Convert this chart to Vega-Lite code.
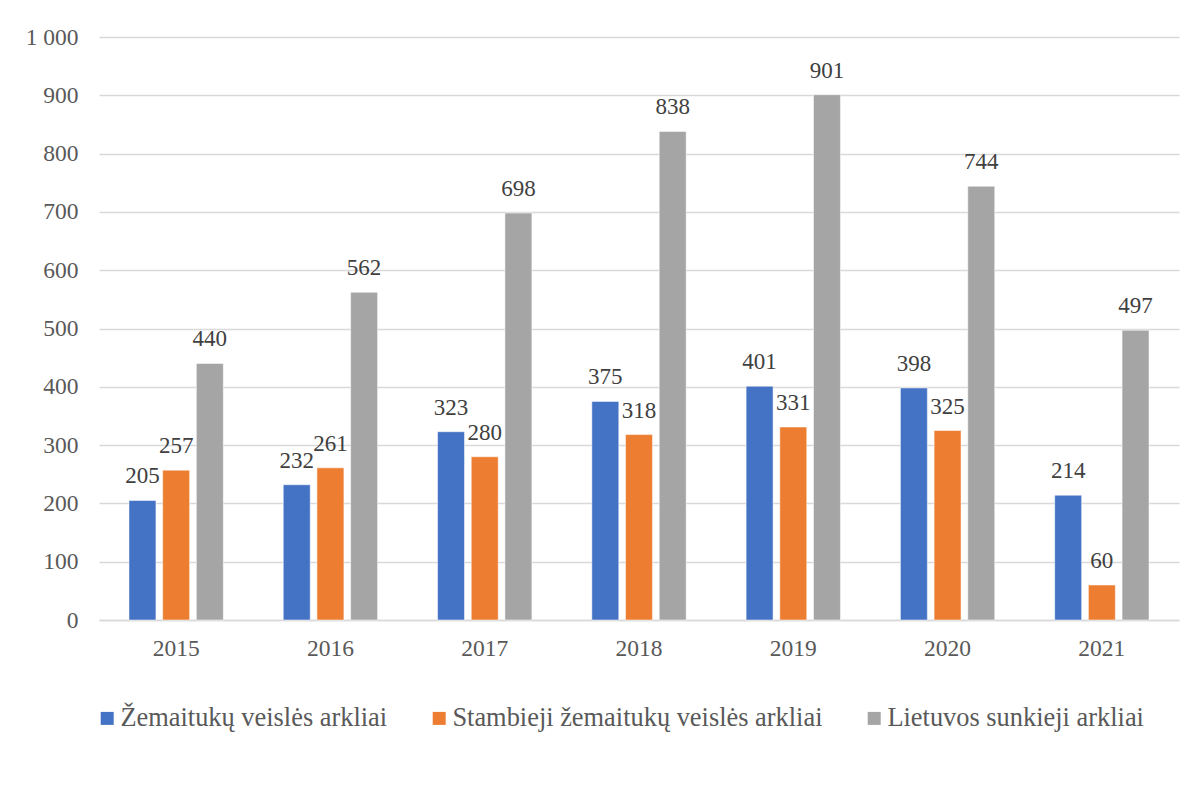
{
  "$schema": "https://vega.github.io/schema/vega-lite/v6.json",
  "autosize": "none",
  "width": 1080,
  "height": 583,
  "padding": {"left": 99, "top": 37, "right": 16, "bottom": 167},
  "background": "white",
  "config": {
    "font": "Liberation Serif",
    "view": {"stroke": null},
    "text": {"font": "Liberation Serif"},
    "axis": {"labelFont": "Liberation Serif", "labelColor": "#595959", "labelFontSize": 23.5}
  },
  "data": {
    "values": [
      {"year": "2015", "series": "Žemaitukų veislės arkliai", "value": 205},
      {"year": "2016", "series": "Žemaitukų veislės arkliai", "value": 232},
      {"year": "2017", "series": "Žemaitukų veislės arkliai", "value": 323},
      {"year": "2018", "series": "Žemaitukų veislės arkliai", "value": 375},
      {"year": "2019", "series": "Žemaitukų veislės arkliai", "value": 401},
      {"year": "2020", "series": "Žemaitukų veislės arkliai", "value": 398},
      {"year": "2021", "series": "Žemaitukų veislės arkliai", "value": 214},
      {"year": "2015", "series": "Stambieji žemaitukų veislės arkliai", "value": 257},
      {"year": "2016", "series": "Stambieji žemaitukų veislės arkliai", "value": 261},
      {"year": "2017", "series": "Stambieji žemaitukų veislės arkliai", "value": 280},
      {"year": "2018", "series": "Stambieji žemaitukų veislės arkliai", "value": 318},
      {"year": "2019", "series": "Stambieji žemaitukų veislės arkliai", "value": 331},
      {"year": "2020", "series": "Stambieji žemaitukų veislės arkliai", "value": 325},
      {"year": "2021", "series": "Stambieji žemaitukų veislės arkliai", "value": 60},
      {"year": "2015", "series": "Lietuvos sunkieji arkliai", "value": 440},
      {"year": "2016", "series": "Lietuvos sunkieji arkliai", "value": 562},
      {"year": "2017", "series": "Lietuvos sunkieji arkliai", "value": 698},
      {"year": "2018", "series": "Lietuvos sunkieji arkliai", "value": 838},
      {"year": "2019", "series": "Lietuvos sunkieji arkliai", "value": 901},
      {"year": "2020", "series": "Lietuvos sunkieji arkliai", "value": 744},
      {"year": "2021", "series": "Lietuvos sunkieji arkliai", "value": 497}
    ]
  },
  "encoding": {
    "x": {
      "field": "year", "type": "nominal", "title": null,
      "scale": {"paddingInner": 0, "paddingOuter": 0},
      "axis": {"labelAngle": 0, "ticks": false, "domainColor": "#d9d9d9", "domainWidth": 1.5, "labelPadding": 28, "labelBaseline": "middle", "labelFont": "Liberation Serif", "labelFontSize": 23.5}
    },
    "xOffset": {
      "field": "series", "type": "nominal",
      "sort": ["Žemaitukų veislės arkliai", "Stambieji žemaitukų veislės arkliai", "Lietuvos sunkieji arkliai"],
      "scale": {"paddingInner": 0.2, "paddingOuter": 0.89}
    },
    "y": {
      "field": "value", "type": "quantitative", "title": null,
      "scale": {"domain": [0, 1000], "nice": false},
      "axis": {"values": [0, 100, 200, 300, 400, 500, 600, 700, 800, 900, 1000], "domain": false, "ticks": false, "gridColor": "#d9d9d9", "gridWidth": 1.5, "labelPadding": 21, "labelFont": "Liberation Serif", "labelFontSize": 23.5, "labelExpr": "replace(format(datum.value, ','), ',', ' ')"}
    }
  },
  "layer": [
    {
      "mark": {"type": "bar", "stroke": "white", "strokeWidth": 0.5},
      "encoding": {
        "color": {
          "field": "series", "type": "nominal",
          "sort": ["Žemaitukų veislės arkliai", "Stambieji žemaitukų veislės arkliai", "Lietuvos sunkieji arkliai"],
          "scale": {"range": ["#4472C4", "#ED7D31", "#A5A5A5"]},
          "legend": {
            "title": null, "orient": "none", "direction": "horizontal",
            "legendX": -5, "legendY": 668,
            "symbolType": "square", "symbolSize": 169, "symbolStrokeWidth": 0,
            "labelFont": "Liberation Serif", "labelFontSize": 26.4, "labelColor": "#595959",
            "labelOffset": 0, "columnPadding": 38, "labelLimit": 600
          }
        }
      }
    },
    {
      "mark": {"type": "text", "baseline": "alphabetic", "dy": -17, "font": "Liberation Serif", "fontSize": 23, "color": "#404040"},
      "encoding": {"text": {"field": "value", "type": "quantitative"}}
    }
  ]
}
